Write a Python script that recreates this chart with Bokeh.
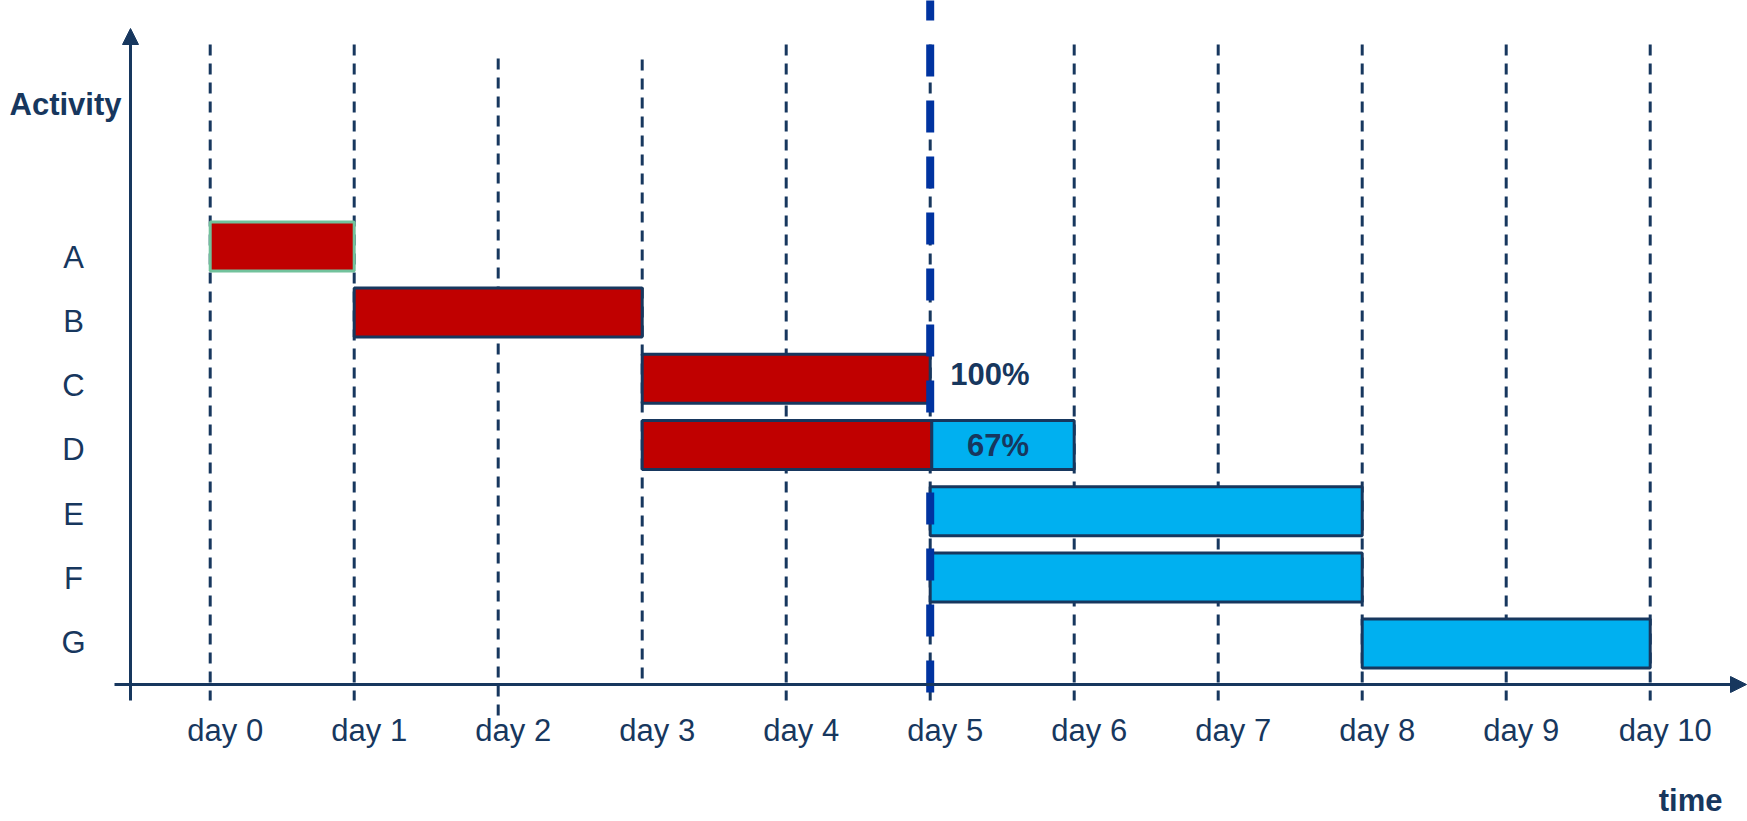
from bokeh.plotting import figure
from bokeh.models import Range1d, Arrow, NormalHead
from bokeh.core.properties import value
from bokeh.embed import file_html
from bokeh.resources import INLINE

# --- schedule data -------------------------------------------------------
activities = ["A", "B", "C", "D", "E", "F", "G"]
start_day = [0, 1, 3, 3, 5, 5, 8]
finish_day = [1, 3, 5, 6, 8, 8, 10]
progress = [1.0, 1.0, 1.0, 0.67, 0.0, 0.0, 0.0]
status_day = 5

days = [0, 1, 2, 3, 4, 5, 6, 7, 8, 9, 10]
day_labels = ["day 0", "day 1", "day 2", "day 3", "day 4", "day 5",
              "day 6", "day 7", "day 8", "day 9", "day 10"]

# --- styling -------------------------------------------------------------
NAVY = "#17375e"
RED = "#c00000"
CYAN = "#00b0f0"
STATUS_BLUE = "#0033a0"
GREEN_EDGE = "#72c29c"
FONT = "Liberation Sans"
FS = "31px"

W, H = 1747, 821
X0, DX = 209.7, 144.0      # pixel of day 0, pixels per day
Y0, DY = 245.9, 66.2       # pixel of first row centre, pixels per row
BAR_H = 0.74


def xd(px):
    return (px - X0) / DX


def yd(px):
    return (px - Y0) / DY


rows = list(range(len(activities)))
bar_edge = [GREEN_EDGE] + [NAVY] * (len(activities) - 1)

p = figure(width=W, height=H, output_backend="svg", toolbar_location=None,
           x_axis_location=None, y_axis_location=None, min_border=0,
           x_range=Range1d(xd(0), xd(W)), y_range=Range1d(yd(H), yd(0)))
p.outline_line_color = None
p.grid.visible = False
p.background_fill_color = "white"
p.border_fill_color = "white"

# dashed day lines
grid_top = [44, 44, 58, 59, 44, 44, 44, 44, 44, 44, 44]
grid_bottom = [700, 700, 720, 684, 700, 700, 700, 700, 700, 700, 700]
p.segment(x0=days, y0=[yd(t) for t in grid_top], x1=days,
          y1=[yd(b) for b in grid_bottom], line_color=NAVY, line_width=3,
          line_dash="11 8")

# axes with arrow heads
p.add_layout(Arrow(x_start=xd(130), y_start=yd(700), x_end=xd(130), y_end=yd(28),
                   line_color=NAVY, line_width=3,
                   end=NormalHead(size=16, fill_color=NAVY, line_color=NAVY, line_width=1)))
p.add_layout(Arrow(x_start=xd(114), y_start=yd(684), x_end=xd(1746), y_end=yd(684),
                   line_color=NAVY, line_width=3,
                   end=NormalHead(size=16, fill_color=NAVY, line_color=NAVY, line_width=1)))

# completed / remaining portions of each activity
done_day = [s + pr * (f - s) for s, f, pr in zip(start_day, finish_day, progress)]
in_progress = [0 < pr < 1 for pr in progress]


def draw_bars(sel):
    idx = [i for i in rows if sel(i)]
    red_i = [i for i in idx if progress[i] > 0]
    cyan_i = [i for i in idx if progress[i] < 1]
    if cyan_i:
        p.hbar(y=[i for i in cyan_i], left=[done_day[i] for i in cyan_i],
               right=[finish_day[i] for i in cyan_i], height=BAR_H,
               fill_color=CYAN, line_color=[bar_edge[i] for i in cyan_i], line_width=3)
    if red_i:
        p.hbar(y=[i for i in red_i], left=[start_day[i] for i in red_i],
               right=[done_day[i] for i in red_i], height=BAR_H,
               fill_color=RED, line_color=[bar_edge[i] for i in red_i], line_width=3)


draw_bars(lambda i: not in_progress[i])

# status date line
p.segment(x0=[status_day], y0=[yd(-12)], x1=[status_day], y1=[yd(692)],
          line_color=STATUS_BLUE, line_width=8, line_dash="32 24")

draw_bars(lambda i: in_progress[i])


def label(x, y, text, align="center", bold=False, x_offset=0, y_offset=0):
    p.text(x=x, y=y, text=text, x_offset=x_offset, y_offset=y_offset,
           text_align=align, text_baseline="middle", text_font=value(FONT),
           text_font_size=FS, text_font_style="bold" if bold else "normal",
           text_color=NAVY)


# percentage complete for activities crossing the status date
for i in rows:
    if start_day[i] < status_day <= finish_day[i]:
        pct = f"{round(progress[i] * 100)}%"
        if progress[i] >= 1:
            label([finish_day[i]], [i], [pct], align="left", bold=True,
                  x_offset=20, y_offset=-4)
        else:
            label([(done_day[i] + finish_day[i]) / 2], [i], [pct], bold=True,
                  x_offset=-5, y_offset=0)

# activity names
label([xd(73)] * len(rows), [yd(256.5 + 64.25 * r) for r in rows], activities)

# day labels
label(days, [yd(730)] * len(days), day_labels, x_offset=15)

# axis titles
label([xd(9)], [yd(103.5)], ["Activity"], align="left", bold=True)
label([xd(1722)], [yd(800)], ["time"], align="right", bold=True)

open("out.html", "w").write(file_html(p, INLINE))
